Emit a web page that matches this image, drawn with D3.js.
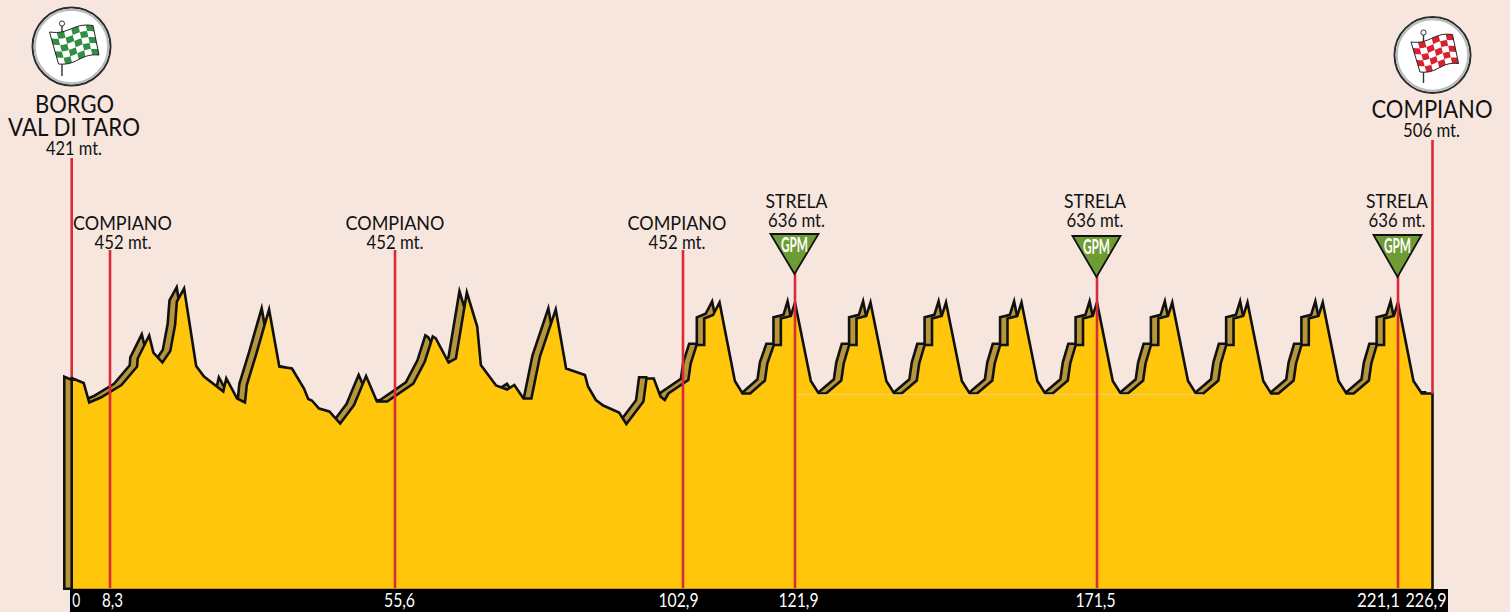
<!DOCTYPE html>
<html lang="en">
<head>
    <meta charset="UTF-8">
    <title>Altimetria</title>
    <style>
        html, body { margin: 0; padding: 0; background: #f7e6de; overflow: hidden; }
        svg { display: block; }
        text { font-family: Lato, "Open Sans", sans-serif; fill: #111; }
    </style>
</head>
<body>
    <div id="chart-wrapper"></div>

    <script src="https://d3js.org/d3.v7.min.js"></script>
    <script>
        // km, first loop then the ten Strela teeth
        const km = [
            0, 2.6, 3.8, 6.3, 10.2, 12.8, 12.9, 14.8, 15.5, 17.0, 18.3, 19.1, 19.4, 20.6, 22.6, 23.9, 27.1, 27.6, 29.4, 30.7,
            31.0, 32.6, 34.7, 36.4, 38.5, 40.5, 41.2, 41.8, 43.0, 44.7, 46.5, 48.8, 50.8, 52.6, 54.3, 58.6, 60.5, 61.8, 62.3, 64.4,
            65.6, 67.4, 69.1, 69.7, 72.2, 74.0, 75.2, 76.7, 78.0, 79.4, 82.0, 83.7, 86.8, 87.3, 88.6, 89.8, 92.4, 93.6, 96.4, 96.9,
            98.1, 99.2, 99.9, 100.5, 103.8, 104.2, 105.2, 106.5, 106.5, 108.0, 109.1,
            111.7, 113.0, 114.3, 116.8, 117.2, 118.3, 119.5, 119.5, 121.2, 121.9,
            124.5, 125.8, 127.0, 129.5, 129.9, 130.8, 132.0, 132.0, 133.6, 134.3,
            136.9, 138.2, 139.4, 141.9, 142.3, 143.2, 144.4, 144.4, 146.0, 146.7,
            149.3, 150.6, 151.8, 154.3, 154.7, 155.6, 156.8, 156.8, 158.4, 159.1,
            161.7, 163.0, 164.2, 166.7, 167.1, 168.0, 169.2, 169.2, 170.8, 171.5,
            174.1, 175.4, 176.6, 179.1, 179.5, 180.4, 181.6, 181.6, 183.2, 183.9,
            186.5, 187.8, 189.0, 191.5, 191.9, 192.8, 194.0, 194.0, 195.6, 196.3,
            198.9, 200.2, 201.4, 203.9, 204.3, 205.2, 206.4, 206.4, 208.0, 208.7,
            211.3, 212.6, 213.8, 216.3, 216.7, 217.6, 218.8, 218.8, 220.4, 221.1,
            223.7, 225.1, 226.9
        ]
        const altitude = [
            486, 476, 437, 447, 472, 509, 525, 571, 537, 517, 540, 592, 639, 665, 510, 489, 459, 485, 445, 437,
            472, 535, 623, 509, 505, 465, 444, 441, 425, 419, 395, 432, 490, 439, 439, 475, 519, 569, 565, 517,
            525, 657, 589, 512, 471, 463, 472, 445, 445, 529, 623, 505, 492, 469, 442, 431, 417, 394, 439, 485,
            485, 449, 442, 455, 482, 515, 552, 552, 605, 612, 637,
            480, 455, 455, 481, 515, 552, 552, 605, 610, 637,
            480, 455, 455, 481, 515, 552, 552, 605, 610, 637,
            480, 455, 455, 481, 515, 552, 552, 605, 610, 637,
            480, 455, 455, 481, 515, 552, 552, 605, 610, 637,
            480, 455, 455, 481, 515, 552, 552, 605, 610, 637,
            480, 455, 455, 481, 515, 552, 552, 605, 610, 637,
            480, 455, 455, 481, 515, 552, 552, 605, 610, 637,
            480, 455, 455, 481, 515, 552, 552, 605, 610, 637,
            480, 455, 455, 481, 515, 552, 552, 605, 610, 637,
            480, 455, 455
        ]

        const tickKm = [0, 8.3, 55.6, 102.9, 121.9, 171.5, 221.1, 226.9]
        const tickLabels = ['0', '8,3', '55,6', '102,9', '121,9', '171,5', '221,1', '226,9']
        const tickShift = [4, 2, 4, -5, 3, -2, -20, -7]
        const tickWidth = [8, 21, 31, 40, 40, 40, 43, 41]

        const gpmKm = [121.9, 171.5, 221.1]
        const gpmTop = [234, 236, 235]
        const gpmApex = [274, 277, 277]

        const width = 1510
        const height = 612
        const baseAlt = 62
        const colors = { bg: '#f7e6de', fill: '#ffc60b', shadow: '#b5963a', red: '#d92b3a', gpm: '#6e9c34' }

        // the printed km marks are not evenly spaced, so the scale is piecewise
        const x = d3.scaleLinear().domain(tickKm).range([71.7, 110, 395, 683, 795, 1097, 1398, 1432.5])
        const y = d3.scaleLinear().domain([636, 452]).range([303, 395])

        const svg = d3.select('#chart-wrapper').append('svg')
            .attr('width', width)
            .attr('height', height)
        svg.append('rect').attr('width', width).attr('height', height).attr('fill', colors.bg)

        const profile = km.map((d, i) => [d, altitude[i]])
        const area = d3.area()
            .x(d => x(d[0]))
            .y0(y(baseAlt))
            .y1(d => y(d[1]))

        // shadow is the same shape pushed up and left
        svg.append('path')
            .attr('d', area(profile))
            .attr('transform', 'translate(-7.4,-1.2)')
            .attr('fill', colors.shadow)
            .attr('stroke', '#111')
            .attr('stroke-width', 2.6)
            .attr('stroke-miterlimit', 10)
        svg.append('path')
            .attr('d', area(profile))
            .attr('fill', colors.fill)
            .attr('stroke', '#111')
            .attr('stroke-width', 2.6)
            .attr('stroke-miterlimit', 10)

        // faint seam on the yellow
        svg.append('line')
            .attr('x1', x(121.9)).attr('x2', x(189))
            .attr('y1', y(455) + 1).attr('y2', y(455) + 1)
            .attr('stroke', '#e6d7a6').attr('stroke-width', 1).attr('opacity', .7)

        // red marker lines: [km, top, bottom]
        const markers = [
            [0, 158, 377], [8.3, 250, 588], [55.6, 250, 588], [102.9, 250, 588],
            [121.9, 270, 588], [171.5, 272, 588], [221.1, 272, 588], [226.9, 140, 394]
        ]
        svg.selectAll('.marker')
            .data(markers)
            .enter()
            .append('line')
            .attr('class', 'marker')
            .attr('x1', d => x(d[0])).attr('x2', d => x(d[0]))
            .attr('y1', d => d[1]).attr('y2', d => d[2])
            .attr('stroke', colors.red)
            .attr('stroke-width', 2.6)

        // GPM triangles
        gpmKm.forEach((k, i) => {
            const cx = x(k) - .5
            svg.append('path')
                .attr('d', d3.line()([[cx - 24, gpmTop[i]], [cx + 24, gpmTop[i]], [cx, gpmApex[i]]]) + 'Z')
                .attr('fill', colors.gpm)
                .attr('stroke', '#111')
                .attr('stroke-width', 1.8)
            svg.append('text')
                .attr('x', cx).attr('y', gpmTop[i] + 17.5)
                .attr('text-anchor', 'middle')
                .attr('font-size', 21)
                .attr('font-weight', 700)
                .attr('textLength', 27)
                .attr('lengthAdjust', 'spacingAndGlyphs')
                .style('fill', '#fff')
                .text('GPM')
        })

        // labels: [text, centre x, baseline, size, width]
        const labels = [
            ['BORGO', 74.5, 113, 24.5, 79],
            ['VAL DI TARO', 74, 136, 24.5, 132],
            ['421 mt.', 74, 155, 19, 56],
            ['COMPIANO', 122.5, 230, 19.5, 99],
            ['452 mt.', 123, 249, 19, 57],
            ['COMPIANO', 395, 230, 19.5, 99],
            ['452 mt.', 395, 249, 19, 57],
            ['COMPIANO', 677, 230, 19.5, 99],
            ['452 mt.', 677, 249, 19, 57],
            ['STRELA', 796.5, 208, 19.5, 62],
            ['636 mt.', 796.5, 227, 19, 57],
            ['STRELA', 1095, 208, 19.5, 62],
            ['636 mt.', 1095, 227, 19, 57],
            ['STRELA', 1397, 208, 19.5, 62],
            ['636 mt.', 1397, 227, 19, 57],
            ['COMPIANO', 1432, 118, 24.5, 121],
            ['506 mt.', 1431.5, 137, 19, 57]
        ]
        svg.selectAll('.label')
            .data(labels)
            .enter()
            .append('text')
            .attr('class', 'label')
            .attr('x', d => d[1])
            .attr('y', d => d[2])
            .attr('text-anchor', 'middle')
            .attr('font-size', d => d[3])
            .attr('textLength', d => d[4])
            .attr('lengthAdjust', 'spacingAndGlyphs')
            .text(d => d[0])

        // km band and axis
        svg.append('rect')
            .attr('x', 70).attr('y', 589)
            .attr('width', 1378).attr('height', 23)
            .attr('fill', '#000')
        const axis = d3.axisBottom(x)
            .tickValues(tickKm)
            .tickFormat((d, i) => tickLabels[i])
            .tickSize(0)
        const axisG = svg.append('g')
            .attr('transform', 'translate(0,589)')
            .call(axis)
        axisG.select('.domain').remove()
        axisG.selectAll('text')
            .attr('y', 4)
            .attr('dy', '.71em')
            .attr('dx', (d, i) => tickShift[i])
            .attr('font-size', 20)
            .attr('textLength', (d, i) => tickWidth[i])
            .attr('lengthAdjust', 'spacingAndGlyphs')
            .style('font-family', 'Lato')
            .style('fill', '#fff')

        // start and finish badges, flag corners are TL TR BR BL
        function badge(cx, cy, r, poleX, poleTop, poleBottom, corners, color) {
            const g = svg.append('g')
            g.append('circle').attr('cx', cx).attr('cy', cy).attr('r', r)
                .attr('fill', '#fff').attr('stroke', '#2b2b2b').attr('stroke-width', 2)
            g.append('circle').attr('cx', cx).attr('cy', cy).attr('r', r - 2.2)
                .attr('fill', 'none').attr('stroke', '#b9bcbe').attr('stroke-width', 2.2)

            // pole sits behind the flag
            g.append('line').attr('x1', poleX).attr('x2', poleX).attr('y1', poleTop).attr('y2', poleBottom)
                .attr('stroke', '#333').attr('stroke-width', 1.4)
            g.append('circle').attr('cx', poleX).attr('cy', poleTop).attr('r', 2.6)
                .attr('fill', '#fff').attr('stroke', '#333').attr('stroke-width', 1)

            const cols = 6
            const rows = 5
            const at = (u, v) => {
                const top = [corners[0][0] + (corners[1][0] - corners[0][0]) * u, corners[0][1] + (corners[1][1] - corners[0][1]) * u]
                const bot = [corners[3][0] + (corners[2][0] - corners[3][0]) * u, corners[3][1] + (corners[2][1] - corners[3][1]) * u]
                return [
                    top[0] + (bot[0] - top[0]) * v,
                    top[1] + (bot[1] - top[1]) * v + 1.8 * Math.sin(u * Math.PI * 2)
                ]
            }
            const line = d3.line()
            const edge = []
            d3.range(0, 13).forEach(i => edge.push(at(i / 12, 0)))
            d3.range(0, 13).forEach(i => edge.push(at(1 - i / 12, 1)))
            g.append('path').attr('d', line(edge) + 'Z').attr('fill', '#fff')
            d3.range(rows).forEach(j => d3.range(cols).forEach(i => {
                if ((i + j) % 2 === 0) return
                const cell = [at(i / cols, j / rows), at((i + .5) / cols, j / rows), at((i + 1) / cols, j / rows),
                    at((i + 1) / cols, (j + 1) / rows), at((i + .5) / cols, (j + 1) / rows), at(i / cols, (j + 1) / rows)]
                g.append('path').attr('d', line(cell) + 'Z').attr('fill', color)
            }))
            g.append('path').attr('d', line(edge) + 'Z').attr('fill', 'none').attr('stroke', '#222').attr('stroke-width', 1)
        }
        badge(71.5, 46.5, 39, 62, 23.5, 76, [[49.5, 32], [93, 25.5], [99, 55], [58.5, 64]], '#2f8f45')
        badge(1432.5, 55, 38, 1423.5, 32.5, 83, [[1411, 42], [1452.5, 34.5], [1458.5, 63.5], [1420, 72]], '#d8212f')
    </script>
</body>
</html>
